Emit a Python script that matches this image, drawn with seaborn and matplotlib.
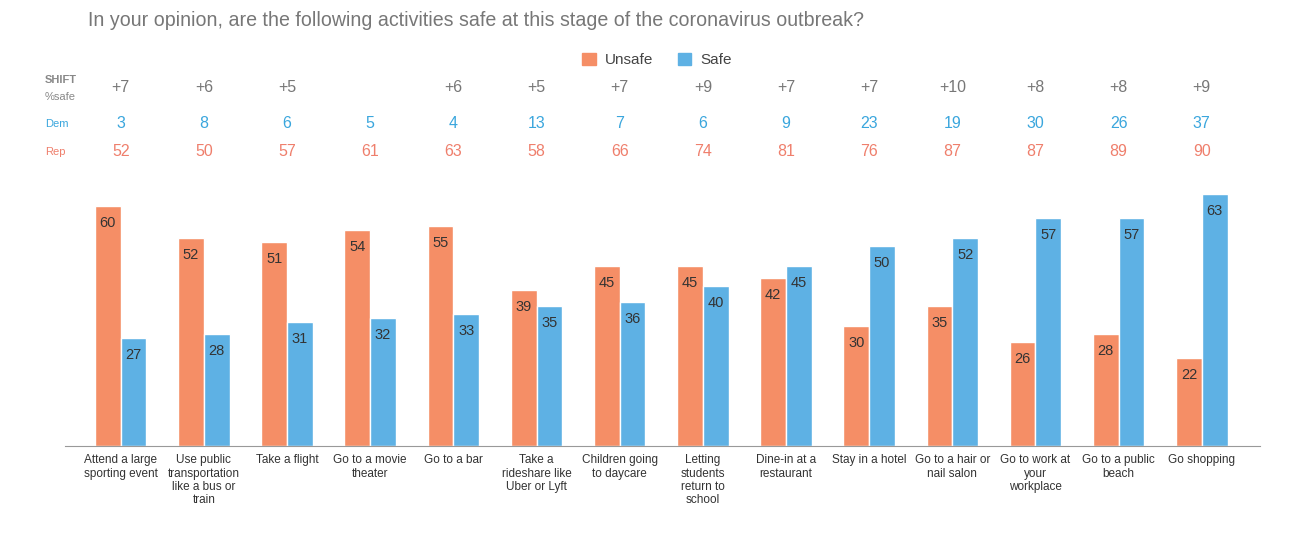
import numpy as np
import matplotlib.pyplot as plt
import seaborn as sns
import pandas as pd
from matplotlib.patches import Patch
from matplotlib.transforms import blended_transform_factory

activities = ["Attend a large\nsporting event", "Use public\ntransportation\nlike a bus or\ntrain",
              "Take a flight", "Go to a movie\ntheater", "Go to a bar",
              "Take a\nrideshare like\nUber or Lyft", "Children going\nto daycare",
              "Letting\nstudents\nreturn to\nschool", "Dine-in at a\nrestaurant",
              "Stay in a hotel", "Go to a hair or\nnail salon", "Go to work at\nyour\nworkplace",
              "Go to a public\nbeach", "Go shopping"]
unsafe = [60, 52, 51, 54, 55, 39, 45, 45, 42, 30, 35, 26, 28, 22]
safe = [27, 28, 31, 32, 33, 35, 36, 40, 45, 50, 52, 57, 57, 63]
shift = ["+7", "+6", "+5", "", "+6", "+5", "+7", "+9", "+7", "+7", "+10", "+8", "+8", "+9"]
dem = [3, 8, 6, 5, 4, 13, 7, 6, 9, 23, 19, 30, 26, 37]
rep = [52, 50, 57, 61, 63, 58, 66, 74, 81, 76, 87, 87, 89, 90]

ORANGE = "#F58E66"
BLUE = "#5EB1E4"

df = pd.DataFrame({
    "activity": activities * 2,
    "answer": ["Unsafe"] * len(activities) + ["Safe"] * len(activities),
    "pct": unsafe + safe,
})

sns.set_style("white")
plt.rcParams["font.family"] = ["Liberation Sans", "DejaVu Sans"]

fig = plt.figure(figsize=(13.04, 5.34), dpi=100)
ax = fig.add_axes([65 / 1304, 1 - 446 / 534, 1195 / 1304, 266 / 534])

sns.barplot(data=df, x="activity", y="pct", hue="answer", order=activities,
            hue_order=["Unsafe", "Safe"], palette=[ORANGE, BLUE], width=0.62,
            ax=ax, legend=False, saturation=1)

for cont in ax.containers:
    ax.bar_label(cont, padding=-17, fontsize=10.5, color="#333333")

ax.set_xlim(-0.67, 13.7)
ax.set_ylim(0, 66.5)
ax.set_xlabel("")
ax.set_ylabel("")
ax.set_yticks([])
for s in ["top", "right", "left"]:
    ax.spines[s].set_visible(False)
ax.spines["bottom"].set_color("#999999")
ax.tick_params(axis="x", length=0, pad=6)
for t in ax.get_xticklabels():
    t.set_fontsize(8.5)
    t.set_color("#333333")
    t.set_linespacing(1.15)

# header rows above the bars
tr = blended_transform_factory(ax.transData, fig.transFigure)
row_y = {"shift": 1 - 88 / 534, "dem": 1 - 123 / 534, "rep": 1 - 151 / 534}
for i in range(len(activities)):
    ax.text(i, row_y["shift"], shift[i], transform=tr, ha="center", va="center",
            fontsize=11.5, color="#777777")
    ax.text(i, row_y["dem"], str(dem[i]), transform=tr, ha="center", va="center",
            fontsize=11.5, color="#3AA6DD")
    ax.text(i, row_y["rep"], str(rep[i]), transform=tr, ha="center", va="center",
            fontsize=11.5, color="#EF7F6C")

fig.text(45 / 1304, 1 - 80 / 534, "SHIFT", fontsize=8, color="#888888",
         fontweight="bold", va="center")
fig.text(45 / 1304, 1 - 97 / 534, "%safe", fontsize=8, color="#888888", va="center")
fig.text(45 / 1304, 1 - 124 / 534, "Dem", fontsize=8, color="#3AA6DD", va="center")
fig.text(45 / 1304, 1 - 152 / 534, "Rep", fontsize=8, color="#EF7F6C", va="center")

fig.text(88 / 1304, 1 - 20 / 534,
         "In your opinion, are the following activities safe at this stage of the coronavirus outbreak?",
         fontsize=14.1, color="#777777", va="center")

# legend
handles = [Patch(color=ORANGE, label="Unsafe"), Patch(color=BLUE, label="Safe")]
fig.legend(handles=handles, loc="center", bbox_to_anchor=(657 / 1304, 1 - 60 / 534),
           ncol=2, frameon=False, fontsize=11, handlelength=0.9, handleheight=0.9,
           handletextpad=0.6, columnspacing=1.6, labelcolor="#444444")

fig.savefig("out.png", dpi=100)
